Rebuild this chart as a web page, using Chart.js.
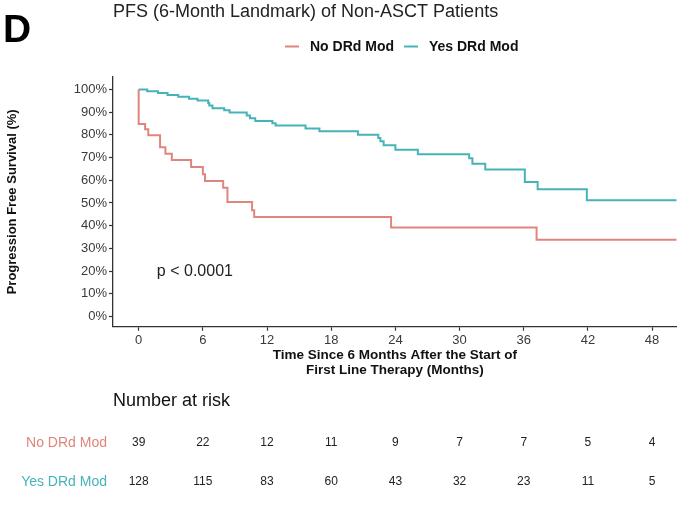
<!DOCTYPE html>
<html><head><meta charset="utf-8">
<script src="https://cdn.jsdelivr.net/npm/chart.js@4.4.1/dist/chart.umd.min.js"></script>
<style>html,body{margin:0;padding:0;background:#fff;} #wrap{width:680px;height:514px;position:relative;} canvas{display:block;}</style>
</head><body><div id="wrap"><canvas id="c" width="680" height="514"></canvas></div>
<script>
// ---- data ----
const seriesNames = ['No DRd Mod', 'Yes DRd Mod'];
const noTimes = [0, 0, 0.6, 0.9, 2.0, 2.5, 3.1, 4.9, 6.0, 6.2, 7.9, 8.3, 10.6, 10.8, 23.6, 37.2, 50.3];
const noSurv  = [100, 84.8, 82.5, 79.8, 74.6, 71.7, 68.9, 65.9, 62.7, 59.7, 56.7, 50.4, 46.8, 43.8, 39.2, 33.8, 33.8];
const yesTimes = [0, 0.8, 1.8, 2.7, 3.7, 4.7, 5.5, 6.5, 6.6, 6.9, 8.0, 8.5, 10.1, 10.4, 10.9, 12.5, 12.8, 15.6, 16.9, 20.5, 22.4, 22.6, 22.9, 24.0, 26.1, 30.9, 31.2, 32.4, 36.1, 37.3, 41.9, 50.3];
const yesSurv  = [100, 99.2, 98.4, 97.6, 96.8, 95.9, 95.1, 94.1, 92.9, 91.7, 90.8, 89.9, 88.5, 87.3, 86.1, 85.1, 84.1, 82.8, 81.6, 80.1, 78.6, 77.2, 75.4, 73.5, 71.5, 69.7, 67.3, 64.7, 59.2, 56.0, 51.2, 51.2];
const xTicks = [0, 6, 12, 18, 24, 30, 36, 42, 48];
const yTicks = [0, 10, 20, 30, 40, 50, 60, 70, 80, 90, 100];
const riskTimes = [0, 6, 12, 18, 24, 30, 36, 42, 48];
const riskNo  = [39, 22, 12, 11, 9, 7, 7, 5, 4];
const riskYes = [128, 115, 83, 60, 43, 32, 23, 11, 5];
const titleText = 'PFS (6-Month Landmark) of Non-ASCT Patients';
const panelLabel = 'D';
const pText = 'p < 0.0001';
const xTitle = ['Time Since 6 Months After the Start of', 'First Line Therapy (Months)'];
const yTitle = 'Progression Free Survival (%)';
const riskTitle = 'Number at risk';

// ---- style ----
const FONT = "'Liberation Sans', Arial, Helvetica, sans-serif";
const colNo = '#E0857C';
const colYes = '#46B3B8';
const colors = [colNo, colYes];
Chart.defaults.font.family = FONT;

const overlay = {
  id: 'overlay',
  afterDraw(chart) {
    const ctx = chart.ctx, xs = chart.scales.x, ys = chart.scales.y;
    ctx.save();
    ctx.textAlign = 'left';
    // panel letter
    ctx.fillStyle = '#000';
    ctx.font = 'bold 39px ' + FONT;
    ctx.textBaseline = 'alphabetic';
    ctx.fillText(panelLabel, 3, 42);
    // title
    ctx.font = '18px ' + FONT;
    ctx.fillStyle = '#222';
    ctx.textBaseline = 'middle';
    ctx.fillText(titleText, 113, 12.5);
    // legend
    ctx.font = 'bold 14px ' + FONT;
    let lx = 285;
    const ly = 46.5;
    chart.data.datasets.forEach((ds, i) => {
      ctx.strokeStyle = ds.borderColor;
      ctx.lineWidth = 2;
      ctx.beginPath(); ctx.moveTo(lx, ly); ctx.lineTo(lx + 14, ly); ctx.stroke();
      ctx.fillStyle = '#111';
      ctx.fillText(ds.label, lx + 25, ly + 0.5);
      lx += 25 + ctx.measureText(ds.label).width + 10;
    });
    // p-value
    ctx.font = '16px ' + FONT;
    ctx.fillStyle = '#222';
    ctx.fillText(pText, xs.getPixelForValue(1.7), ys.getPixelForValue(19.8));
    // risk table
    ctx.font = '18px ' + FONT;
    ctx.fillStyle = '#111';
    ctx.fillText(riskTitle, 113, 401.5);
    const rows = [riskNo, riskYes];
    const rowY = [443, 482];
    rows.forEach((row, r) => {
      ctx.textAlign = 'right';
      ctx.font = '14px ' + FONT;
      ctx.fillStyle = colors[r];
      ctx.fillText(seriesNames[r], 107, rowY[r]);
      ctx.textAlign = 'center';
      ctx.font = '12px ' + FONT;
      ctx.fillStyle = '#222';
      row.forEach((v, k) => ctx.fillText(String(v), xs.getPixelForValue(riskTimes[k]), rowY[r]));
    });
    ctx.restore();
  }
};

const mk = (ts, ss) => ts.map((t, i) => ({x: t, y: ss[i]}));

new Chart(document.getElementById('c'), {
  type: 'line',
  data: {
    datasets: [
      {label: seriesNames[0], data: mk(noTimes, noSurv), borderColor: colNo, borderWidth: 2, stepped: true, pointRadius: 0, fill: false},
      {label: seriesNames[1], data: mk(yesTimes, yesSurv), borderColor: colYes, borderWidth: 2, stepped: true, pointRadius: 0, fill: false}
    ]
  },
  options: {
    responsive: false,
    animation: false,
    events: [],
    layout: {padding: {left: 0, right: 3.3, top: 77, bottom: 135.3}},
    plugins: {legend: {display: false}, tooltip: {enabled: false}, title: {display: false}},
    scales: {
      x: {
        type: 'linear', min: -2.4, max: 50.3,
        afterBuildTicks: s => { s.ticks = xTicks.map(v => ({value: v})); },
        afterFit: s => { s.height = 52; },
        ticks: {color: '#3a3a3a', font: {size: 13}, padding: 2, maxRotation: 0, autoSkip: false},
        grid: {drawOnChartArea: false, drawTicks: true, tickLength: 4, tickColor: '#333', tickWidth: 1.2},
        border: {display: true, color: '#333', width: 1.3},
        title: {display: true, text: xTitle, color: '#111', font: {size: 13.5, weight: 'bold', lineHeight: 1.11}, padding: {top: 0, bottom: 1.2}}
      },
      y: {
        type: 'linear', min: -4.5, max: 105.5,
        afterBuildTicks: s => { s.ticks = yTicks.map(v => ({value: v})); },
        afterFit: s => { s.width = 113; },
        ticks: {color: '#3a3a3a', font: {size: 13}, padding: 2, callback: v => v + '%'},
        grid: {drawOnChartArea: false, drawTicks: true, tickLength: 4, tickColor: '#333', tickWidth: 1.2},
        border: {display: true, color: '#333', width: 1.3},
        title: {display: true, text: yTitle, color: '#111', font: {size: 13, weight: 'bold', lineHeight: 1.15}, padding: {top: 5, bottom: 0}}
      }
    }
  },
  plugins: [overlay]
});
</script>
</body></html>
